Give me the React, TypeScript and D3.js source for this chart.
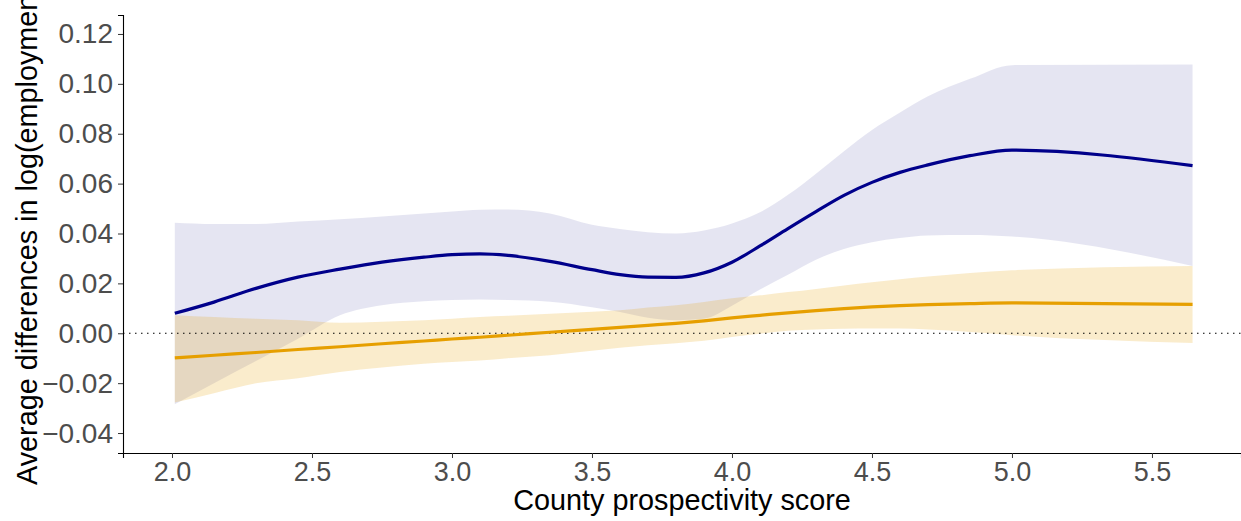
import React, { useEffect, useRef } from 'react';
import * as d3 from 'd3';

// county prospectivity score (x) shared by both smoothed series
const score = [2.01, 2.15, 2.3, 2.45, 2.6, 2.75, 2.9, 3.0, 3.1, 3.2, 3.35, 3.5, 3.6, 3.7, 3.8, 3.9, 4.0, 4.1, 4.2, 4.3, 4.4, 4.5, 4.6, 4.7, 4.85, 5.0, 5.645];

// navy series: fit and confidence band
const navyFit = [0.008, 0.0125, 0.018, 0.0225, 0.0257, 0.0285, 0.0305, 0.0315, 0.0318, 0.0312, 0.0288, 0.0255, 0.0235, 0.0225, 0.0224, 0.0242, 0.0285, 0.035, 0.042, 0.0488, 0.0553, 0.0605, 0.0645, 0.0675, 0.0712, 0.0734, 0.0672];
const navyLo = [-0.0285, -0.02, -0.0111, -0.0022, 0.0072, 0.0112, 0.0128, 0.0133, 0.0135, 0.0133, 0.0126, 0.0104, 0.0085, 0.0062, 0.0052, 0.0058, 0.011, 0.0175, 0.0235, 0.0295, 0.0338, 0.0365, 0.0382, 0.0392, 0.0394, 0.0388, 0.027];
const navyHi = [0.0443, 0.0438, 0.0438, 0.0448, 0.0457, 0.0468, 0.048, 0.0488, 0.0495, 0.0496, 0.048, 0.0435, 0.0418, 0.0405, 0.04, 0.0412, 0.044, 0.0485, 0.0555, 0.064, 0.073, 0.0815, 0.0885, 0.095, 0.102, 0.1075, 0.1078];

// orange series: fit and confidence band
const orangeFit = [-0.0099, -0.0088, -0.0077, -0.0065, -0.0054, -0.0042, -0.0031, -0.0023, -0.0016, -0.0008, 0.0004, 0.0016, 0.0024, 0.0032, 0.004, 0.005, 0.0062, 0.0072, 0.0082, 0.0091, 0.0099, 0.0106, 0.0111, 0.0115, 0.0119, 0.0122, 0.0116];
const orangeLo = [-0.0278, -0.024, -0.02, -0.018, -0.0155, -0.0137, -0.0122, -0.0115, -0.0109, -0.01, -0.0088, -0.007, -0.0058, -0.0048, -0.004, -0.003, -0.0015, -0.0002, 0.001, 0.0015, 0.0018, 0.0019, 0.0019, 0.0015, 0.0005, -0.0008, -0.0039];
const orangeHi = [0.0072, 0.0065, 0.0058, 0.0052, 0.0042, 0.0046, 0.0052, 0.0058, 0.0065, 0.007, 0.0078, 0.0086, 0.0092, 0.0103, 0.0112, 0.0125, 0.014, 0.0152, 0.0165, 0.0178, 0.0192, 0.0205, 0.0217, 0.0228, 0.0242, 0.0253, 0.027];

const xTicks = [2.0, 2.5, 3.0, 3.5, 4.0, 4.5, 5.0, 5.5];
const yTicks = [-0.04, -0.02, 0.0, 0.02, 0.04, 0.06, 0.08, 0.1, 0.12];

const W = 1241;
const H = 521;

const App = () => {
  const ref = useRef(null);

  useEffect(() => {
    const left = 123, right = 1241, top = 15, bottom = 453;
    const font = '"Liberation Sans", Arial, sans-serif';

    const svg = d3.select(ref.current);
    svg.selectAll('*').remove();

    const x = d3.scaleLinear().domain([1.825, 5.818]).range([left, right]);
    const y = d3.scaleLinear().domain([-0.048, 0.1276]).range([bottom, top]);

    const rows = score.map((s, i) => ({
      s,
      nf: navyFit[i], nl: navyLo[i], nh: navyHi[i],
      of: orangeFit[i], ol: orangeLo[i], oh: orangeHi[i],
    }));

    const curve = d3.curveMonotoneX;

    // confidence bands
    svg.append('path')
      .attr('d', d3.area().x(d => x(d.s)).y0(d => y(d.nl)).y1(d => y(d.nh)).curve(curve)(rows))
      .attr('fill', 'navy').attr('fill-opacity', 0.1);
    svg.append('path')
      .attr('d', d3.area().x(d => x(d.s)).y0(d => y(d.ol)).y1(d => y(d.oh)).curve(curve)(rows))
      .attr('fill', '#E69F00').attr('fill-opacity', 0.2);

    // zero reference line
    svg.append('line')
      .attr('x1', left).attr('x2', right)
      .attr('y1', y(0)).attr('y2', y(0))
      .attr('stroke', '#000').attr('stroke-width', 1.2)
      .attr('stroke-dasharray', '1.5,4.5');

    // fitted lines
    svg.append('path')
      .attr('d', d3.line().x(d => x(d.s)).y(d => y(d.nf)).curve(curve)(rows))
      .attr('fill', 'none').attr('stroke', '#00008B').attr('stroke-width', 3.2);
    svg.append('path')
      .attr('d', d3.line().x(d => x(d.s)).y(d => y(d.of)).curve(curve)(rows))
      .attr('fill', 'none').attr('stroke', '#E69F00').attr('stroke-width', 3.2);

    // axes
    const gx = svg.append('g').attr('transform', `translate(0,${bottom})`)
      .call(d3.axisBottom(x).tickValues(xTicks).tickFormat(d3.format('.1f')).tickSize(5).tickPadding(4));
    gx.select('.domain').attr('stroke', '#000').attr('stroke-width', 1.1);
    gx.selectAll('.tick line').attr('stroke', '#333');
    gx.selectAll('.tick text')
      .attr('fill', '#4D4D4D').attr('font-size', 27).attr('font-family', font);

    const gy = svg.append('g').attr('transform', `translate(${left},0)`)
      .call(d3.axisLeft(y).tickValues(yTicks).tickFormat(d3.format('.2f')).tickSize(5).tickPadding(5));
    gy.select('.domain').attr('stroke', '#000').attr('stroke-width', 1.1);
    gy.selectAll('.tick line').attr('stroke', '#333');
    gy.selectAll('.tick text')
      .attr('fill', '#4D4D4D').attr('font-size', 28).attr('font-family', font);

    // axis titles
    svg.append('text')
      .attr('x', (left + right) / 2).attr('y', 510)
      .attr('text-anchor', 'middle')
      .attr('font-size', 28.8).attr('font-family', font).attr('fill', '#000')
      .text('County prospectivity score');

    svg.append('text')
      .attr('transform', 'translate(37,485) rotate(-90)')
      .attr('text-anchor', 'start')
      .attr('font-size', 28.8).attr('font-family', font).attr('fill', '#000')
      .text('Average differences in log(employment)');
  }, []);

  return (
    <svg ref={ref} width={W} height={H}
      style={{ position: 'absolute', left: 0, top: 0, background: '#fff' }} />
  );
};

export default App;
